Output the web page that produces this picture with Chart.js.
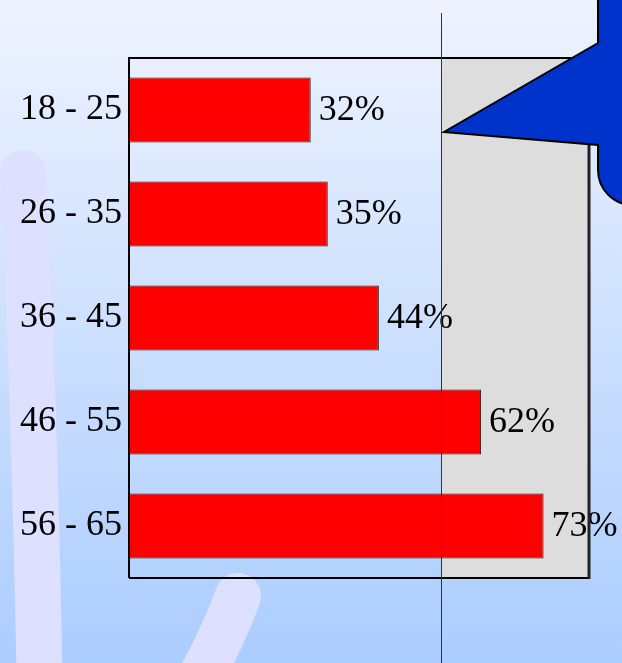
<!DOCTYPE html>
<html>
<head>
<meta charset="utf-8">
<script src="https://cdn.jsdelivr.net/npm/chart.js@4/dist/chart.umd.min.js"></script>
<style>
  html, body { margin: 0; padding: 0; background: #dfe9fd; }
  #wrap { width: 622px; height: 663px; }
</style>
</head>
<body>
<div id="wrap"><canvas id="chart" width="622" height="663"></canvas></div>
<script>
// ── Data ─────────────────────────────────────────────────────────────────────

const ageGroups = ['18 - 25', '26 - 35', '36 - 45', '46 - 55', '56 - 65'];
const shares    = [32, 35, 44, 62, 73];
const axisMax   = 81;
const shadeFrom = 55;   // grey band + divider line start here

const SERIF = '"Liberation Serif", "Times New Roman", serif';

// ── Decoration plugin ────────────────────────────────────────────────────────

const decor = {
  id: 'decor',
  beforeDraw(chart) {
    const { ctx, width, height } = chart;
    ctx.save();
    const g = ctx.createLinearGradient(0, 0, 0, height);
    g.addColorStop(0, '#eef3fe');
    g.addColorStop(1, '#abcdff');
    ctx.fillStyle = g;
    ctx.fillRect(0, 0, width, height);

    // soft lavender strokes in the background
    ctx.strokeStyle = '#dde0ff';
    ctx.lineWidth = 46;
    ctx.lineCap = 'round';
    ctx.beginPath();
    ctx.moveTo(23, 173);
    ctx.quadraticCurveTo(34, 380, 40, 700);
    ctx.stroke();
    ctx.beginPath();
    ctx.moveTo(238, 596);
    ctx.quadraticCurveTo(220, 645, 188, 700);
    ctx.stroke();
    ctx.restore();
  },
  beforeDatasetsDraw(chart) {
    const { ctx, chartArea: a, scales: { x } } = chart;
    const sx = x.getPixelForValue(shadeFrom);
    ctx.save();
    ctx.fillStyle = '#dddddd';
    ctx.fillRect(sx, a.top, a.right - sx, a.bottom - a.top);
    ctx.restore();
  },
  afterDraw(chart) {
    const { ctx, chartArea: a, scales: { x } } = chart;
    ctx.save();

    // value labels
    ctx.font = `36px ${SERIF}`;
    ctx.fillStyle = '#000';
    ctx.textAlign = 'left';
    ctx.textBaseline = 'middle';
    const meta = chart.getDatasetMeta(0);
    meta.data.forEach((bar, i) => {
      ctx.fillText(shares[i] + '%', bar.x + 8, bar.y + 1);
    });

    // frame
    ctx.strokeStyle = '#000';
    ctx.lineWidth = 2;
    ctx.beginPath();
    ctx.moveTo(a.left, a.bottom);
    ctx.lineTo(a.left, a.top);
    ctx.lineTo(a.right, a.top);
    ctx.moveTo(a.left, a.bottom);
    ctx.lineTo(a.right, a.bottom);
    ctx.stroke();
    ctx.lineWidth = 3;
    ctx.strokeStyle = '#222';
    ctx.beginPath();
    ctx.moveTo(a.right, a.top);
    ctx.lineTo(a.right, a.bottom + 1);
    ctx.stroke();

    // divider line
    const sx = Math.round(x.getPixelForValue(shadeFrom)) + 0.5;
    ctx.strokeStyle = '#333';
    ctx.lineWidth = 1;
    ctx.beginPath();
    ctx.moveTo(sx, 13);
    ctx.lineTo(sx, chart.height);
    ctx.stroke();

    // callout
    ctx.fillStyle = '#0033cc';
    ctx.strokeStyle = '#000';
    ctx.lineWidth = 2;
    ctx.beginPath();
    ctx.moveTo(598, -10);
    ctx.lineTo(598, 43);
    ctx.lineTo(444, 132);
    ctx.lineTo(598, 145);
    ctx.lineTo(598, 170);
    ctx.arc(633, 170, 35, Math.PI, Math.PI / 2, true);
    ctx.lineTo(640, -10);
    ctx.closePath();
    ctx.fill();
    ctx.stroke();
    ctx.restore();
  },
};

// ── Chart ────────────────────────────────────────────────────────────────────

new Chart(document.getElementById('chart'), {
  type: 'bar',
  data: {
    labels: ageGroups,
    datasets: [{
      data: shares,
      backgroundColor: '#ff0000',
      borderColor: '#222',
      borderWidth: 1,
      borderSkipped: false,
      categoryPercentage: 1,
      barPercentage: 0.625,
    }],
  },
  options: {
    indexAxis: 'y',
    responsive: false,
    animation: false,
    layout: { padding: { top: 58, right: 33, bottom: 85, left: 0 } },
    plugins: {
      legend: { display: false },
      tooltip: { enabled: false },
    },
    scales: {
      x: { display: false, min: 0, max: axisMax },
      y: {
        grid: { display: false, drawTicks: false },
        border: { display: false },
        ticks: {
          color: '#000',
          padding: 7,
          font: { family: SERIF, size: 36 },
        },
        afterFit(scale) { scale.width = 129; },
      },
    },
  },
  plugins: [decor],
});
</script>
</body>
</html>
